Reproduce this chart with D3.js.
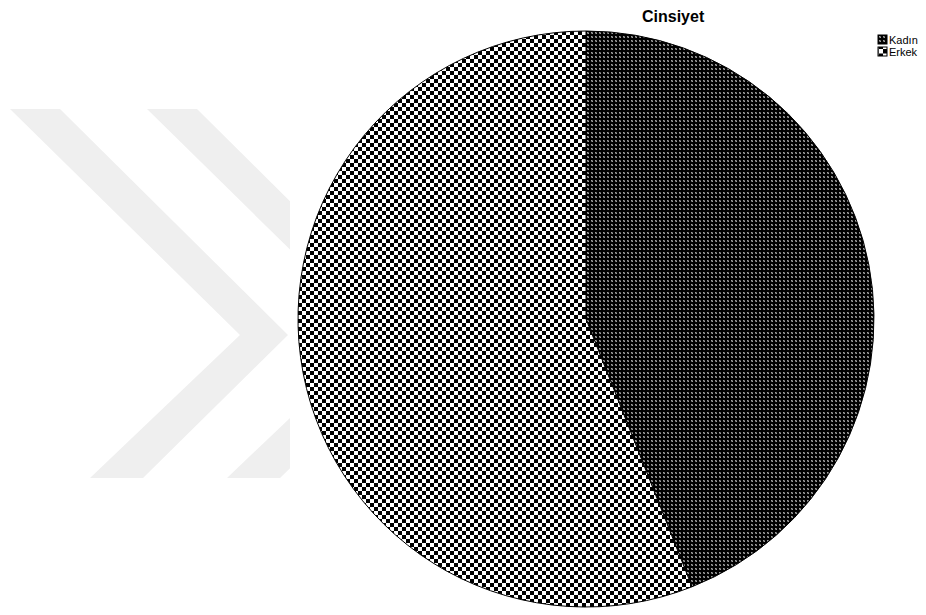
<!DOCTYPE html>
<html>
<head>
<meta charset="utf-8">
<script src="https://cdn.jsdelivr.net/npm/d3@7"></script>
<style>
  body { margin: 0; background: #fff; }
  svg { display: block; }
</style>
</head>
<body>
<div id="chart"></div>
<script>
// data (percent of respondents)
const categories = ["Kadın", "Erkek"];
const values = [44, 56];
const title = "Cinsiyet";

const width = 926, height = 615;
const cx = 586, cy = 319, radius = 288;

const svg = d3.select("#chart")
  .append("svg")
  .attr("width", width)
  .attr("height", height);

const defs = svg.append("defs");

// fine dark pattern for Kadın
const pDark = defs.append("pattern")
  .attr("id", "pat-kadin")
  .attr("patternUnits", "userSpaceOnUse")
  .attr("width", 4).attr("height", 4);
pDark.append("rect").attr("width", 4).attr("height", 4).attr("fill", "#000");
[[1, 1, "#a0a0a0"], [2, 2, "#a0a0a0"], [1, 2, "#606060"], [2, 1, "#606060"]].forEach(function (p) {
  pDark.append("rect").attr("x", p[0]).attr("y", p[1]).attr("width", 1).attr("height", 1)
    .attr("fill", p[2]).attr("shape-rendering", "crispEdges");
});

// coarse checkerboard for Erkek
const pCheck = defs.append("pattern")
  .attr("id", "pat-erkek")
  .attr("patternUnits", "userSpaceOnUse")
  .attr("width", 8).attr("height", 8);
pCheck.append("rect").attr("width", 8).attr("height", 8).attr("fill", "#fff");
pCheck.append("rect").attr("width", 4).attr("height", 4).attr("fill", "#000")
  .attr("shape-rendering", "crispEdges");
pCheck.append("rect").attr("x", 4).attr("y", 4).attr("width", 4).attr("height", 4)
  .attr("fill", "#000").attr("shape-rendering", "crispEdges");

// big checker for the legend symbol of Erkek
const pLeg = defs.append("pattern")
  .attr("id", "pat-erkek-leg")
  .attr("patternUnits", "userSpaceOnUse")
  .attr("x", 878).attr("y", 47)
  .attr("width", 9).attr("height", 9);
pLeg.append("rect").attr("width", 9).attr("height", 9).attr("fill", "#fff");
pLeg.append("rect").attr("width", 4.5).attr("height", 4.5).attr("fill", "#000");
pLeg.append("rect").attr("x", 4.5).attr("y", 4.5).attr("width", 4.5).attr("height", 4.5).attr("fill", "#000");

const fills = ["url(#pat-kadin)", "url(#pat-erkek)"];
const legendFills = ["url(#pat-kadin)", "url(#pat-erkek-leg)"];

// background watermark (two light chevrons, cut on the right)
defs.append("clipPath").attr("id", "wm-clip")
  .append("rect").attr("x", 0).attr("y", 0).attr("width", 290).attr("height", height);
const chevron = [[10, 109], [60, 109], [288, 335], [143, 478], [90, 478], [240, 335]];
const wm = svg.append("g").attr("clip-path", "url(#wm-clip)");
[0, 137].forEach(function (dx) {
  wm.append("polygon")
    .attr("points", chevron.map(function (p) { return (p[0] + dx) + "," + p[1]; }).join(" "))
    .attr("fill", "#efefef");
});

// pie
const pie = d3.pie().sort(null).value(function (d) { return d; });
const arc = d3.arc().innerRadius(0).outerRadius(radius);

const g = svg.append("g")
  .attr("transform", "translate(" + cx + "," + cy + ")");

g.selectAll("path")
  .data(pie(values))
  .enter()
  .append("path")
  .attr("d", arc)
  .attr("fill", function (d, i) { return fills[i]; })
  .attr("stroke", "#000")
  .attr("stroke-width", 1);

// title
svg.append("text")
  .attr("x", 642)
  .attr("y", 22)
  .style("font-family", "Arial, 'Liberation Sans', sans-serif")
  .style("font-size", "16px")
  .style("font-weight", "bold")
  .style("fill", "#000")
  .text(title);

// legend
const legend = svg.append("g")
  .selectAll("g")
  .data(categories)
  .enter()
  .append("g")
  .attr("transform", function (d, i) { return "translate(878," + (35 + i * 12) + ")"; });

legend.append("rect")
  .attr("width", 9)
  .attr("height", 9)
  .attr("fill", function (d, i) { return legendFills[i]; })
  .attr("stroke", "#000")
  .attr("stroke-width", 1);

legend.append("text")
  .attr("x", 11)
  .attr("y", 8.5)
  .style("font-family", "Arial, 'Liberation Sans', sans-serif")
  .style("font-size", "11px")
  .style("fill", "#000")
  .text(function (d) { return d; });
</script>
</body>
</html>
